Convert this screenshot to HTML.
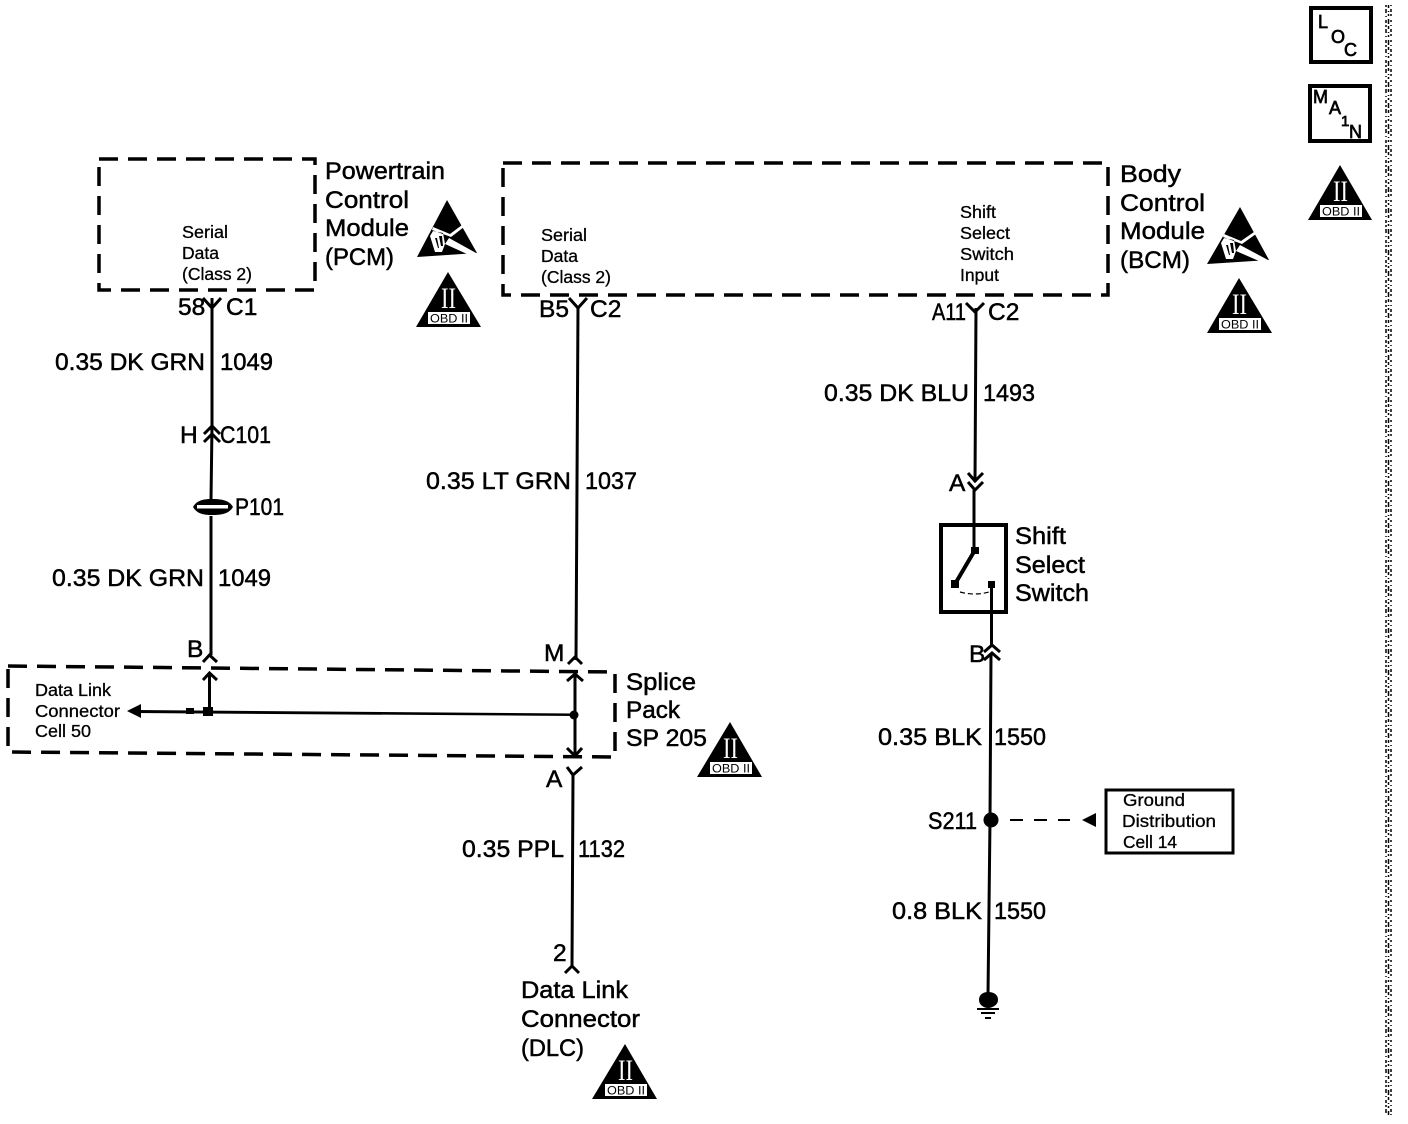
<!DOCTYPE html>
<html><head><meta charset="utf-8"><style>
html,body{margin:0;padding:0;background:#fff;width:1408px;height:1124px;overflow:hidden}
svg{display:block}
text{font-family:"Liberation Sans",sans-serif;fill:#000}
.b text{font-size:24.5px;stroke:#000;stroke-width:.5}
.s text{font-size:17.5px;stroke:#000;stroke-width:.3}
.l text{stroke:#000;stroke-width:.7}
.w{fill:none;stroke:#000;stroke-width:3}
.c{fill:none;stroke:#000;stroke-width:3}
.d{fill:none;stroke:#000;stroke-width:3.5;stroke-dasharray:19 10}
.r{font-family:"Liberation Serif",serif!important;font-size:30px;fill:#fff}
.o{font-size:12px}
</style></head><body>
<svg width="1408" height="1124" viewBox="0 0 1408 1124" xmlns="http://www.w3.org/2000/svg">
<rect width="1408" height="1124" fill="#fff"/>

<!-- dashed module boxes -->
<path class="d" d="M99 159H315V290H99Z"/>
<path class="d" d="M503 163H1108V295H503Z"/>
<path class="d" d="M8 666L615 672V757L8 752Z"/>

<!-- PCM wire -->
<path class="w" d="M212 298V425L211 500M211 516V655"/>
<path class="c" d="M203 298L212 308L221 298M204 434L212 426L220 434M204 442L212 434L220 442"/>
<path d="M193 507C197 500 204 499 212 499C221 499 229 500 233 507C229 514 221 515 212 515C204 515 197 514 193 507Z"/>
<rect x="197" y="505" width="31" height="3.500" fill="#fff"/>
<path class="c" d="M203 662L209.500 655L217 662M203 680L209.500 673L217 680"/>
<path class="w" d="M209.500 673V711"/>

<!-- BCM serial wire -->
<path class="w" d="M578 306L576 660"/>
<path class="c" d="M569 298L578 308L587 298M568 664L575 657L582 664M567 681L575 674L583 681"/>
<path class="w" d="M575 674V755"/>
<path class="c" d="M567 748L575 756L582 748M567 767L573 775L582 767"/>
<path class="w" d="M573 775L572 966"/>
<path class="c" d="M565 973L572 966L579 973"/>
<circle cx="574" cy="715" r="4.500"/>
<path d="M135 710L574 713.500V716L135 713Z"/>
<path d="M127 711L141 704V718Z"/>
<rect x="186" y="708" width="8" height="6"/>
<rect x="203" y="707" width="10" height="9"/>

<!-- Shift select wire -->
<path class="w" d="M976 308L975 482M974 490V550"/>
<path class="c" d="M966 303L975 312L984 303M968 473L975 481L983 473M968 482L975 490L983 482"/>
<rect x="941" y="525" width="65" height="87" fill="none" stroke="#000" stroke-width="4"/>
<path d="M975 550L955 584" stroke="#000" stroke-width="4"/>
<rect x="971" y="547" width="8" height="7"/>
<rect x="951" y="580" width="8" height="8"/>
<rect x="988" y="581" width="7" height="7"/>
<path d="M960 592Q975 596 989 592" fill="none" stroke="#000" stroke-width="1.200" stroke-dasharray="5 3"/>
<path class="w" d="M991.500 584V645M991 653L990 820L988 995"/>
<path class="c" d="M984 652L992 645L1000 652M984 660L992 653L1000 660"/>
<circle cx="991" cy="820" r="7.500"/>
<path d="M1010 820H1070" fill="none" stroke="#000" stroke-width="2" stroke-dasharray="13 11"/>
<path d="M1082 820L1096 813V827Z"/>
<rect x="1106" y="790" width="127" height="63" fill="none" stroke="#000" stroke-width="3"/>
<path d="M979 1000C979 994 984 992 988 992C993 992 998 994 998 1000C998 1005 992 1008 988 1008C984 1008 979 1005 979 1000Z"/>
<path d="M977 1009H999M981 1013H995M985 1018H991" stroke="#000" stroke-width="2"/>

<!-- LOC / MAIN -->
<rect x="1311" y="8" width="60" height="54" fill="none" stroke="#000" stroke-width="4"/>
<g class="l"><text x="1318" y="28" font-size="18">L</text><text x="1331" y="43" font-size="18">O</text><text x="1344" y="56" font-size="18">C</text></g>
<rect x="1310" y="86" width="60" height="55" fill="none" stroke="#000" stroke-width="4"/>
<g class="l"><text x="1313" y="103" font-size="18">M</text><text x="1329" y="114" font-size="18">A</text><text x="1341" y="126" font-size="15">1</text><text x="1349" y="138" font-size="18">N</text></g>

<!-- OBD II symbols -->
<g transform="translate(1340,165)"><path d="M0 0L32 55H-32Z"/><text class="r" x="-7" y="36" textLength="15" lengthAdjust="spacingAndGlyphs">II</text><rect x="-20" y="40" width="42" height="12" fill="#fff"/><text class="o" x="-18" y="50.500" textLength="38" lengthAdjust="spacingAndGlyphs">OBD II</text></g>
<g transform="translate(448,272)"><path d="M0 0L33 55H-32Z"/><text class="r" x="-7" y="36" textLength="15" lengthAdjust="spacingAndGlyphs">II</text><rect x="-20" y="40" width="42" height="12" fill="#fff"/><text class="o" x="-18" y="50.500" textLength="38" lengthAdjust="spacingAndGlyphs">OBD II</text></g>
<g transform="translate(1239,278)"><path d="M0 0L33 55H-32Z"/><text class="r" x="-7" y="36" textLength="15" lengthAdjust="spacingAndGlyphs">II</text><rect x="-20" y="40" width="42" height="12" fill="#fff"/><text class="o" x="-18" y="50.500" textLength="38" lengthAdjust="spacingAndGlyphs">OBD II</text></g>
<g transform="translate(730,722)"><path d="M0 0L32 55H-33Z"/><text class="r" x="-7" y="36" textLength="15" lengthAdjust="spacingAndGlyphs">II</text><rect x="-20" y="40" width="42" height="12" fill="#fff"/><text class="o" x="-18" y="50.500" textLength="38" lengthAdjust="spacingAndGlyphs">OBD II</text></g>
<g transform="translate(625,1044)"><path d="M0 0L32 55H-33Z"/><text class="r" x="-7" y="36" textLength="15" lengthAdjust="spacingAndGlyphs">II</text><rect x="-20" y="40" width="42" height="12" fill="#fff"/><text class="o" x="-18" y="50.500" textLength="38" lengthAdjust="spacingAndGlyphs">OBD II</text></g>

<!-- ESD symbols -->
<g transform="translate(447,200)"><path d="M0 0L30 53L-30 57Z"/><path fill="#fff" d="M-15 30L4 37L17 27L15 25L3 34L-14 27ZM2 38L30 53.500L20 54L-2 44ZM-17 36L-14 31L-4 33L-2 44L-5 52L-12 52Z"/><path d="M-8 36L-6 46L-4 46L-5 36ZM-12 38L-9 48L-8 48L-10 38Z"/></g>
<g transform="translate(1240,207)"><path d="M0 0L29 53L-33 57Z"/><path fill="#fff" d="M-17 30L2 37L16 27L14 25L1 34L-16 27ZM0 38L29 53.500L19 54L-4 44ZM-19 36L-16 31L-6 33L-4 44L-7 52L-14 52Z"/><path d="M-10 36L-8 46L-6 46L-7 36ZM-14 38L-11 48L-10 48L-12 38Z"/></g>

<!-- side strip -->
<path d="M1386 5V1115" stroke="#000" stroke-width="1.500" stroke-dasharray="2 2 4 3 1 3 3 2" fill="none"/>
<path d="M1388.500 5V1115" stroke="#000" stroke-width="1.500" stroke-dasharray="3 3 1 2 2 3 5 2" fill="none"/>
<path d="M1391 5V1115" stroke="#000" stroke-width="1.500" stroke-dasharray="1 3 3 2 2 4 2 3" fill="none"/>

<!-- large labels -->
<g class="b">
<text x="325" y="179" textLength="120" lengthAdjust="spacingAndGlyphs">Powertrain</text><text x="325" y="208" textLength="84" lengthAdjust="spacingAndGlyphs">Control</text><text x="325" y="236" textLength="84" lengthAdjust="spacingAndGlyphs">Module</text><text x="325" y="265" textLength="69" lengthAdjust="spacingAndGlyphs">(PCM)</text>
<text x="1120" y="182" textLength="61" lengthAdjust="spacingAndGlyphs">Body</text><text x="1120" y="211" textLength="85" lengthAdjust="spacingAndGlyphs">Control</text><text x="1120" y="239" textLength="85" lengthAdjust="spacingAndGlyphs">Module</text><text x="1120" y="268" textLength="70" lengthAdjust="spacingAndGlyphs">(BCM)</text>
<text x="178" y="315">58</text><text x="226" y="315">C1</text>
<text x="539" y="317">B5</text><text x="590" y="317">C2</text>
<text x="932" y="320" textLength="34" lengthAdjust="spacingAndGlyphs">A11</text><text x="988" y="320">C2</text>
<text x="55" y="370" textLength="150" lengthAdjust="spacingAndGlyphs">0.35 DK GRN</text><text x="220" y="370" textLength="53" lengthAdjust="spacingAndGlyphs">1049</text>
<text x="180" y="443">H</text><text x="220" y="443" textLength="51" lengthAdjust="spacingAndGlyphs">C101</text>
<text x="235" y="515" textLength="49" lengthAdjust="spacingAndGlyphs">P101</text>
<text x="52" y="586" textLength="152" lengthAdjust="spacingAndGlyphs">0.35 DK GRN</text><text x="218" y="586" textLength="53" lengthAdjust="spacingAndGlyphs">1049</text>
<text x="187" y="657">B</text><text x="544" y="661">M</text>
<text x="626" y="690" textLength="70" lengthAdjust="spacingAndGlyphs">Splice</text><text x="626" y="718" textLength="54" lengthAdjust="spacingAndGlyphs">Pack</text><text x="626" y="746" textLength="81" lengthAdjust="spacingAndGlyphs">SP 205</text>
<text x="546" y="787">A</text>
<text x="462" y="857" textLength="102" lengthAdjust="spacingAndGlyphs">0.35 PPL</text><text x="578" y="857" textLength="47" lengthAdjust="spacingAndGlyphs">1132</text>
<text x="553" y="961">2</text>
<text x="521" y="998" textLength="107" lengthAdjust="spacingAndGlyphs">Data Link</text><text x="521" y="1027" textLength="119" lengthAdjust="spacingAndGlyphs">Connector</text><text x="521" y="1056" textLength="63" lengthAdjust="spacingAndGlyphs">(DLC)</text>
<text x="426" y="489" textLength="145" lengthAdjust="spacingAndGlyphs">0.35 LT GRN</text><text x="585" y="489" textLength="52" lengthAdjust="spacingAndGlyphs">1037</text>
<text x="824" y="401" textLength="145" lengthAdjust="spacingAndGlyphs">0.35 DK BLU</text><text x="983" y="401" textLength="52" lengthAdjust="spacingAndGlyphs">1493</text>
<text x="949" y="491">A</text>
<text x="1015" y="544" textLength="51" lengthAdjust="spacingAndGlyphs">Shift</text><text x="1015" y="573" textLength="70" lengthAdjust="spacingAndGlyphs">Select</text><text x="1015" y="601" textLength="74" lengthAdjust="spacingAndGlyphs">Switch</text>
<text x="969" y="662">B</text>
<text x="878" y="745" textLength="104" lengthAdjust="spacingAndGlyphs">0.35 BLK</text><text x="994" y="745" textLength="52" lengthAdjust="spacingAndGlyphs">1550</text>
<text x="928" y="829" textLength="49" lengthAdjust="spacingAndGlyphs">S211</text>
<text x="892" y="919" textLength="90" lengthAdjust="spacingAndGlyphs">0.8 BLK</text><text x="994" y="919" textLength="52" lengthAdjust="spacingAndGlyphs">1550</text>
</g>

<!-- small labels -->
<g class="s">
<text x="182" y="238" textLength="46" lengthAdjust="spacingAndGlyphs">Serial</text><text x="182" y="259" textLength="37" lengthAdjust="spacingAndGlyphs">Data</text><text x="182" y="280" textLength="70" lengthAdjust="spacingAndGlyphs">(Class 2)</text>
<text x="541" y="241" textLength="46" lengthAdjust="spacingAndGlyphs">Serial</text><text x="541" y="262" textLength="37" lengthAdjust="spacingAndGlyphs">Data</text><text x="541" y="283" textLength="70" lengthAdjust="spacingAndGlyphs">(Class 2)</text>
<text x="960" y="218" textLength="36" lengthAdjust="spacingAndGlyphs">Shift</text><text x="960" y="239" textLength="50" lengthAdjust="spacingAndGlyphs">Select</text><text x="960" y="260" textLength="54" lengthAdjust="spacingAndGlyphs">Switch</text><text x="960" y="281" textLength="39" lengthAdjust="spacingAndGlyphs">Input</text>
<text x="35" y="696" textLength="76" lengthAdjust="spacingAndGlyphs">Data Link</text><text x="35" y="717" textLength="85" lengthAdjust="spacingAndGlyphs">Connector</text><text x="35" y="737" textLength="56" lengthAdjust="spacingAndGlyphs">Cell 50</text>
<text x="1123" y="806" textLength="62" lengthAdjust="spacingAndGlyphs">Ground</text><text x="1122" y="827" textLength="94" lengthAdjust="spacingAndGlyphs">Distribution</text><text x="1123" y="848" textLength="54" lengthAdjust="spacingAndGlyphs">Cell 14</text>
</g>
</svg>
</body></html>
